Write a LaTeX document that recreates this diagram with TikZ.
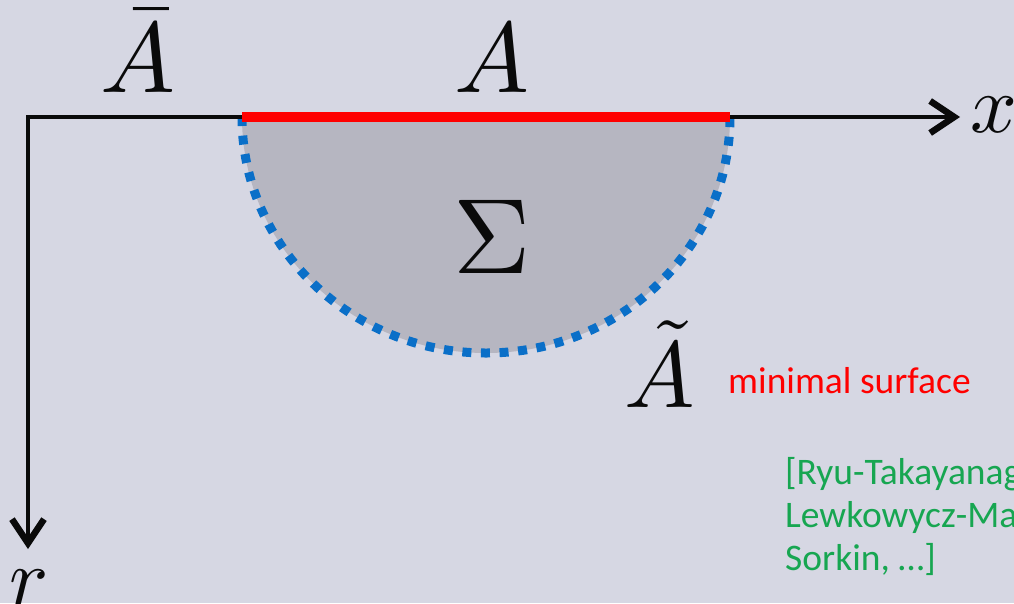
\documentclass[tikz,border=0pt]{standalone}
\usepackage{amsmath}
\usepackage{graphicx}
\usepackage{fontspec}
\usepackage{tikz}
\usetikzlibrary{arrows.meta,positioning}
\newfontfamily\slidefont{Carlito}
\definecolor{rtBack}{HTML}{D6D7E3}
\definecolor{rtBulk}{HTML}{B6B6C1}
\definecolor{rtRed}{HTML}{FF0000}
\definecolor{rtBlue}{HTML}{0A6FC8}
\definecolor{rtGreen}{HTML}{17A651}
\definecolor{rtInk}{HTML}{0A0A0A}
\newcommand{\bigmath}[2]{\scalebox{#1}{$#2$}}
\tikzset{
  axis/.style    ={rtInk,line width=4.8pt,line join=miter,
                   {Straight Barb[length=24pt,width=32pt,line width=6.5pt]}-{Straight Barb[length=24pt,width=32pt,line width=6.5pt]}},
  region/.style  ={line width=10pt,rtRed},
  rtsurf/.style  ={rtBlue,line width=9pt,dash pattern=on 9pt off 9.6pt},
  bulk/.style    ={fill=rtBulk},
  mlbl/.style    ={inner sep=0pt,anchor=base,text=rtInk},
  slbl/.style    ={inner sep=0pt,anchor=base west,font=\slidefont\fontsize{37.5}{43}\selectfont},
}
\begin{document}
\begin{tikzpicture}[x=1pt,y=-1pt]
\useasboundingbox (0,0) rectangle (1014,603);
\clip (0,0) rectangle (1014,603);
\fill[rtBack] (0,0) rectangle (1014,603);

% end points of the boundary interval and the axes
\coordinate (O) at (28,117);
\coordinate (xend) at (960,117);
\coordinate (rend) at (28,549);
\coordinate (aL) at (242,117);
\coordinate (aR) at (730,117);

% bulk region bounded by the extremal surface
\fill[bulk] (aL) arc[start angle=180,end angle=0,x radius=244,y radius=236] -- cycle;
\draw[rtsurf] (aL) arc[start angle=180,end angle=0,x radius=244,y radius=236];

\draw[axis] (xend) -- (O) -- (rend);
\draw[region] (aL) -- (aR);

% labels
\node[mlbl] (Abar) at (138,92) {\bigmath{10}{\bar{A}}};
\node[mlbl] (A) at (492,92) {\bigmath{10}{A}};
\node[mlbl] (Sig) at (492,273) {\bigmath{10.7}{\Sigma}};
\node[mlbl] (At) at (660,407) {\bigmath{9.4}{\tilde{A}}};
\node[mlbl,anchor=base west] (xl) at (970,132) {\bigmath{8.2}{x}};
\node[mlbl] (rl) at (29,605) {\bigmath{8.2}{r}};

\node[slbl,text=rtRed] (minsurf) at (728,393) {minimal surface};
\node[slbl,text=rtGreen,align=left,anchor=north west] (refs) at (785,457)
  {[Ryu-Takayanagi,\\Lewkowycz-Maldacena,\\Sorkin, \dots]};
\end{tikzpicture}
\end{document}
